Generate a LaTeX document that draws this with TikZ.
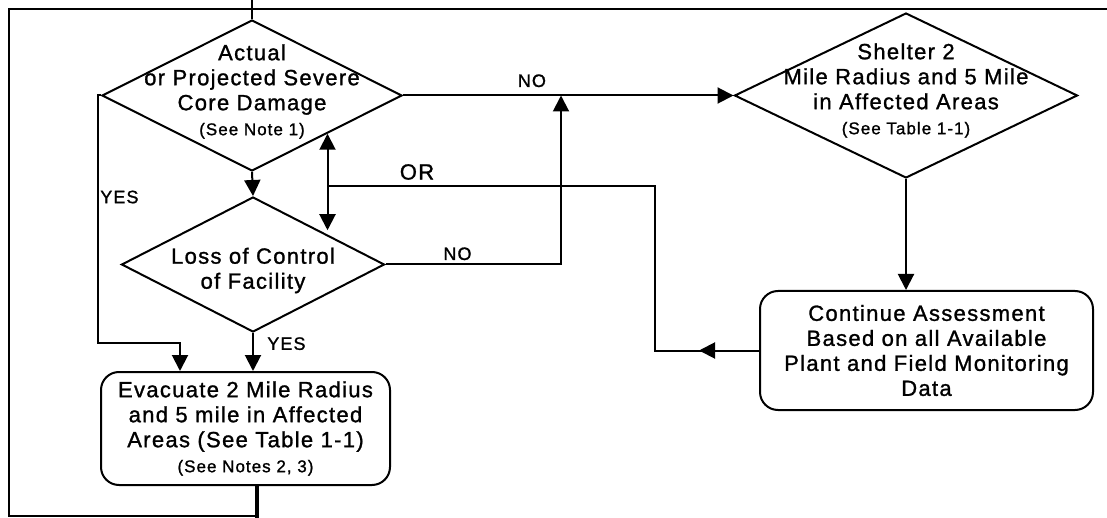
\documentclass[tikz,border=0pt]{standalone}
\usepackage{fontspec}
\setmainfont{Liberation Sans}[LetterSpace=6.0, FakeBold=1.2]
\usetikzlibrary{arrows.meta, positioning, calc, shapes.geometric}

\newcommand{\bigtxt}{\fontsize{22}{25}\selectfont}
\newcommand{\smalltxt}{\fontsize{17}{19}\selectfont}

\begin{document}
\begin{tikzpicture}[
  x=1pt, y=-1pt,
  every node/.style={font=\bigtxt, align=center, line width=2pt},
  decision/.style={draw, diamond, inner sep=0pt},
  process/.style={draw, rounded corners=18pt, inner sep=0pt},
  arr/.style={-{Triangle[length=16pt, width=16pt]}, line width=2pt},
  lbl/.style={font=\fontsize{18}{20}\selectfont},
]
  \useasboundingbox (0,0) rectangle (1107,518);

  \node[decision, minimum width=300pt, minimum height=151pt,
        label={[yshift=4pt]center:{Actual\\or Projected Severe\\Core Damage\\{\smalltxt (See Note 1)}}}] (dmg) at (252,95.5) {};
  \node[decision, minimum width=263pt, minimum height=135pt,
        label={[yshift=-6pt]center:{Loss of Control\\of Facility}}] (ctrl) at (253,264.5) {};
  \node[decision, minimum width=343pt, minimum height=165pt,
        label={[yshift=5pt]center:{Shelter 2\\Mile Radius and 5 Mile\\in Affected Areas\\{\smalltxt (See Table 1-1)}}}] (shelter) at (906,95.5) {};
  \node[process, minimum width=289pt, minimum height=113pt] (evac) at (245.5,428.5)
    {Evacuate 2 Mile Radius\\and 5 mile in Affected\\Areas (See Table 1-1)\\{\smalltxt (See Notes 2, 3)}};
  \node[process, minimum width=333pt, minimum height=119pt] (assess) at (926.5,350.5)
    {Continue Assessment\\Based on all Available\\Plant and Field Monitoring\\Data};

  \coordinate (entry) at (252,0);
  \coordinate (exit) at (257,518);
  \coordinate (orjoin) at (dmg.south east |- 0,186);

  % frame of the rest of the chart
  \draw[line width=2pt] (1107,9) -- (9,9) -- (9,516) -- (exit |- 0,516);

  \draw[line width=2pt] (entry) -- (dmg.north);
  \draw[arr] (dmg.south) -- (ctrl.north);
  \draw[arr] (dmg.east) -- node[lbl, above=4pt, pos=0.39] (no1) {NO} (shelter.west);
  \draw[arr] (dmg.west) -- ++(-3,0) |- (180,343) -- (180,0 |- evac.north);
  \node[lbl, anchor=west] (yes1) at (96,197) {YES};

  \draw[arr] (ctrl.south) -- node[lbl, right=10pt, pos=0.28] (yes2) {YES} (ctrl.south |- evac.north);
  \draw[arr] (ctrl.east) -- node[lbl, above=0pt, pos=0.41] (no2) {NO} (561,264.5) -- (561,0 |- dmg.east);

  \draw[arr] (shelter.south) -- (shelter.south |- assess.north);

  % loop back from the assessment
  \draw[arr] (assess.west) -- ++(-60,0);
  \draw[line width=2pt] (assess.west) -- ++(-104,0) |- (orjoin);
  \draw[arr] (orjoin) -- (dmg.south east);
  \draw[arr] (orjoin) -- (orjoin |- ctrl.north east);
  \node[font=\bigtxt] (or) at (417,172) {OR};

  \draw[line width=3.5pt] (exit |- evac.south) -- (exit);
\end{tikzpicture}
\end{document}
